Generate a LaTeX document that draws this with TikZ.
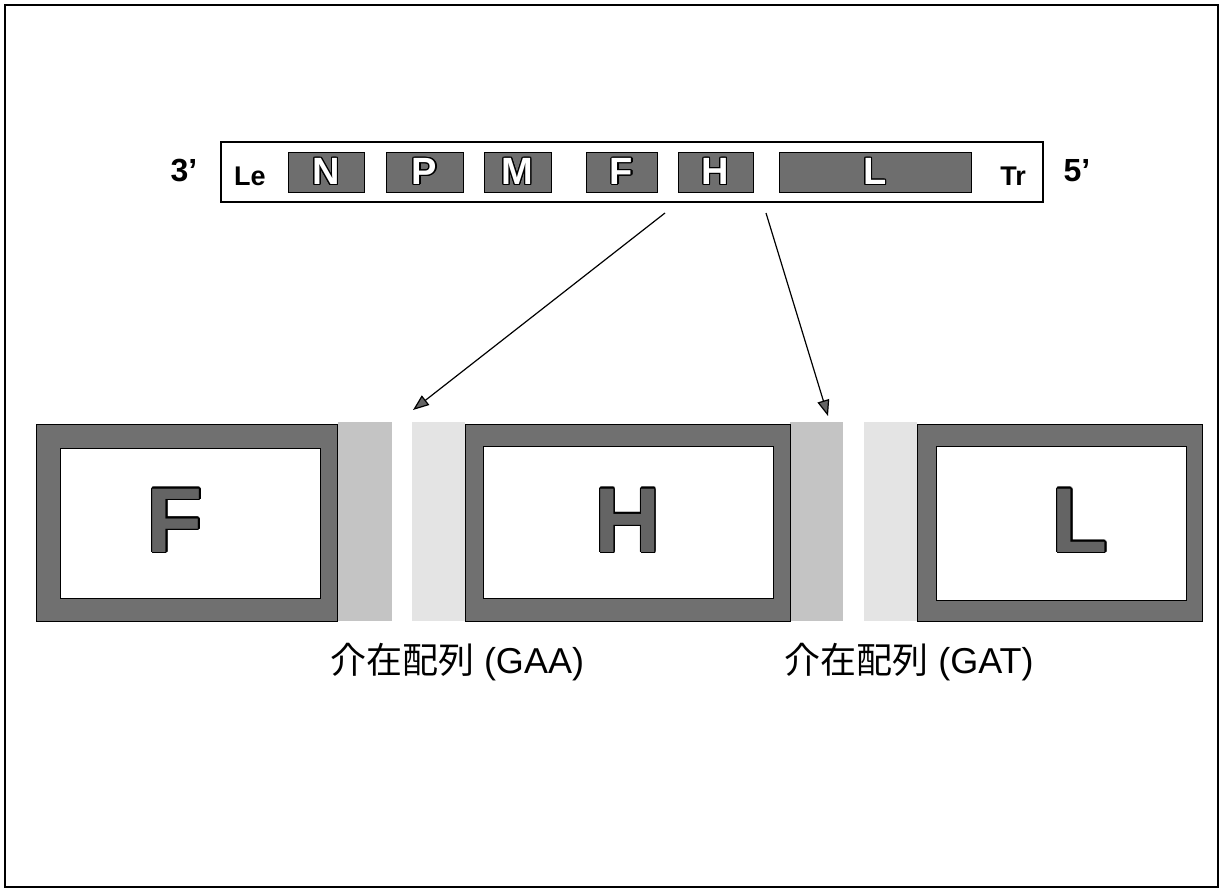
\documentclass[tikz,border=0pt]{standalone}
\usepackage{fontspec}
\setmainfont{Liberation Sans}
\newfontfamily\cjk{Noto Sans CJK JP}
\usepackage{contour}
\usetikzlibrary{arrows.meta}
\definecolor{genegray}{RGB}{110,110,110}
\definecolor{framegray}{RGB}{112,112,112}
\definecolor{banddark}{RGB}{196,196,196}
\definecolor{bandlight}{RGB}{228,228,228}
\definecolor{lettergray}{RGB}{100,100,100}
\tikzset{
  genebox/.style={draw=black, line width=0.8pt, fill=genegray},
  genelabel/.style={font=\fontsize{38}{38}\bfseries\selectfont, inner sep=0pt},
  endlabel/.style={font=\fontsize{32}{32}\bfseries\selectfont, inner sep=0pt},
  smalllabel/.style={font=\fontsize{27}{27}\bfseries\selectfont, inner sep=0pt},
  bigframe/.style={draw=black, line width=1pt, fill=framegray},
  bigin/.style={draw=black, line width=1pt, fill=white},
  bigletter/.style={font=\fontsize{92}{92}\bfseries\selectfont, inner sep=0pt},
  bandd/.style={fill=banddark},
  bandl/.style={fill=bandlight},
  caption/.style={font=\fontsize{36}{36}\selectfont, inner sep=0pt},
  pointer/.style={line width=1.2pt, -{Triangle[length=16pt,width=12pt,fill=lettergray]}}
}
\contourlength{1.2pt}
\newcommand{\wl}[1]{\contour{black}{\textcolor{white}{#1}}}
\newcommand{\gl}[1]{\contour{black}{\textcolor{lettergray}{#1}}}
\begin{document}
\begin{tikzpicture}[x=1pt,y=-1pt]
\useasboundingbox (0,0) rectangle (1223,893);
\fill[white] (0,0) rectangle (1223,893);
\draw[line width=1.5pt] (5,5) rectangle (1218,887);
% top genome bar
\node[draw=black, line width=1.2pt, minimum width=822pt, minimum height=60pt, inner sep=0pt] (bar) at (632,172) {};
\node[endlabel] (p3) at (184,171) {3’};
\node[endlabel] (p5) at (1077,171) {5’};
\node[smalllabel] (le) at (250,176) {Le};
\node[smalllabel] (tr) at (1013,176) {Tr};
\node[genebox, minimum width=76pt, minimum height=40pt, inner sep=0pt] (gN) at (326,172) {};
\node[genebox, minimum width=77pt, minimum height=40pt, inner sep=0pt] (gP) at (424.5,172) {};
\node[genebox, minimum width=67pt, minimum height=40pt, inner sep=0pt] (gM) at (517.5,172) {};
\node[genebox, minimum width=71pt, minimum height=40pt, inner sep=0pt] (gF) at (621.5,172) {};
\node[genebox, minimum width=75pt, minimum height=40pt, inner sep=0pt] (gH) at (715.5,172) {};
\node[genebox, minimum width=192pt, minimum height=40pt, inner sep=0pt] (gL) at (875,172) {};
\node[genelabel] at (gN) {\wl{N}};
\node[genelabel] at (gP) {\wl{P}};
\node[genelabel] at (gM) {\wl{M}};
\node[genelabel] at (gF) {\wl{F}};
\node[genelabel] at (gH) {\wl{H}};
\node[genelabel] at (gL) {\wl{L}};
% bands
\fill[bandd] (338,422) rectangle (392,621);
\fill[bandl] (412,422) rectangle (465,621);
\fill[bandd] (790,422) rectangle (843,621);
\fill[bandl] (864,422) rectangle (917,621);
\coordinate (gaa) at (413,410);
\coordinate (gat) at (828,416);
% big boxes
\draw[bigframe] (36,424) rectangle (337,621);
\draw[bigin] (60,448) rectangle (320,598);
\draw[bigframe] (465,424) rectangle (790,621);
\draw[bigin] (483,446) rectangle (773,598);
\draw[bigframe] (917,424) rectangle (1202,621);
\draw[bigin] (936,446) rectangle (1186,600);
\node[bigletter] (bF) at (175,521) {\gl{F}};
\node[bigletter] (bH) at (628,521) {\gl{H}};
\node[bigletter] (bL) at (1080,521) {\gl{L}};
% captions
\node[caption] (c1) at (457,662) {{\cjk 介在配列} (GAA)};
\node[caption] (c2) at (909,662) {{\cjk 介在配列} (GAT)};
% arrows
\coordinate (s1) at (665,213);
\coordinate (s2) at (766,213);
\draw[pointer] (s1) -- (gaa);
\draw[pointer] (s2) -- (gat);
\end{tikzpicture}
\end{document}
